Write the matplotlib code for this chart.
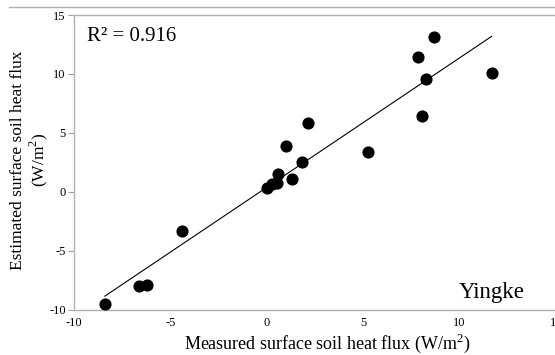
import matplotlib.pyplot as plt
import numpy as np

plt.rcParams['font.family'] = ['Liberation Serif', 'DejaVu Serif']
plt.rcParams['mathtext.fontset'] = 'custom'
plt.rcParams['mathtext.rm'] = 'Liberation Serif'
plt.rcParams['axes.unicode_minus'] = False

# measured vs estimated surface soil heat flux (W/m2)
measured = [-8.4, -6.65, -6.2, -4.4, 0.0, 0.25, 0.55, 0.6, 1.3, 1.8,
            1.02, 2.12, 5.25, 7.85, 8.05, 8.26, 8.67, 11.66]
estimated = [-9.5, -7.97, -7.9, -3.3, 0.3, 0.65, 0.75, 1.5, 1.1, 2.5,
             3.9, 5.85, 3.4, 11.4, 6.47, 9.55, 13.1, 10.1]
x_ticks = [-10, -5, 0, 5, 10, 15]
y_ticks = [-10, -5, 0, 5, 10, 15]

fig = plt.figure(figsize=(5.55, 3.55), dpi=100)
ax = fig.add_axes([74/555, 1 - 310/355, (556 - 74)/555, (310 - 15)/355])

ax.scatter(measured, estimated, s=60, color='black', zorder=3)

# linear trend line
k, b = np.polyfit(measured, estimated, 1)
xx = np.array([min(measured), max(measured)])
ax.plot(xx, k * xx + b, color='black', lw=0.8)

ax.set_xlim(-10, 15)
ax.set_ylim(-10, 15)
ax.set_xticks(x_ticks)
ax.set_yticks(y_ticks)
ax.tick_params(axis='x', length=0, pad=5, labelsize=9)
ax.tick_params(axis='y', length=4, width=0.8, color='#a0a0a0', pad=2, labelsize=9)
for s in ax.spines.values():
    s.set_color('#b0b0b0')
    s.set_linewidth(1)
ax.spines['right'].set_color('#e0e0e0')

ax.text(-9.3, 13.2, 'R² = 0.916', fontsize=15, va='center', ha='left')
ax.text(9.95, -8.5, 'Yingke', fontsize=16.5, va='center', ha='left')

fig.text(327/555, 1 - 343/355, 'Measured surface soil heat flux (W/m$^2$)',
         fontsize=13, ha='center', va='center')
fig.text(30/555, 1 - 160/355, 'Estimated surface soil heat flux\n(W/m$^2$)',
         fontsize=12.5, ha='center', va='center', rotation=90, linespacing=1.05)

# chart border line at top
fig.add_artist(plt.Line2D([9/555, 1], [1 - 7/355, 1 - 7/355], color='#b0b0b0', lw=1))

fig.savefig('out.png', dpi=100)
